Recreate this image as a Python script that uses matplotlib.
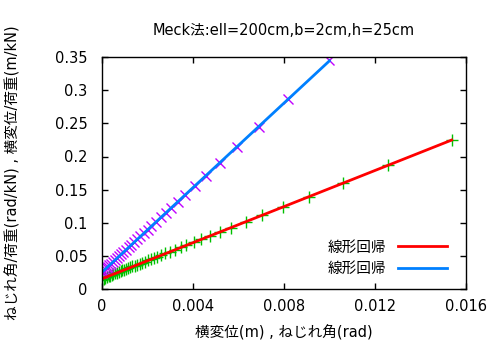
import numpy as np
import matplotlib
matplotlib.use("Agg")
import matplotlib.pyplot as plt

plt.rcParams['font.family'] = ['DejaVu Sans', 'Noto Sans CJK JP']

title = "Meck法:ell=200cm,b=2cm,h=25cm"
xlabel = "横変位(m) , ねじれ角(rad)"
ylabel = "ねじれ角/荷重(rad/kN) , 横変位/荷重(m/kN)"
fit_label = "線形回帰"

# lateral displacement (m) vs displacement/load (m/kN)
disp_x = [0.01537, 0.01259, 0.01061, 0.00911, 0.00797, 0.00706, 0.00636, 0.00570,
          0.00522, 0.00475, 0.00438, 0.00404, 0.00372, 0.00347, 0.00322, 0.00300,
          0.00280, 0.00262, 0.00245, 0.00230, 0.00216, 0.00203, 0.00190, 0.00178,
          0.00167, 0.00156, 0.00146, 0.00136, 0.00127, 0.00118, 0.00109, 0.00100,
          0.00092, 0.00084, 0.00076, 0.00068, 0.00060, 0.00052, 0.00045, 0.00038,
          0.00031, 0.00024, 0.00017, 0.00010, 0.00004]
disp_y = [0.2248, 0.1866, 0.1595, 0.1393, 0.1242, 0.1116, 0.1018, 0.0925,
          0.0862, 0.0799, 0.0750, 0.0704, 0.0661, 0.0629, 0.0594, 0.0563,
          0.0537, 0.0511, 0.0489, 0.0469, 0.0450, 0.0432, 0.0414, 0.0398,
          0.0383, 0.0368, 0.0355, 0.0341, 0.0329, 0.0316, 0.0304, 0.0292,
          0.0281, 0.0270, 0.0258, 0.0247, 0.0236, 0.0225, 0.0214, 0.0203,
          0.0192, 0.0178, 0.0165, 0.0152, 0.0140]

# twist angle (rad) vs angle/load (rad/kN)
twist_x = [0.01000, 0.00820, 0.00693, 0.00596, 0.00520, 0.00460, 0.00409, 0.00367,
           0.00334, 0.00306, 0.00282, 0.00259, 0.00238, 0.00219, 0.00202, 0.00186,
           0.00171, 0.00157, 0.00144, 0.00131, 0.00119, 0.00107, 0.00096, 0.00086,
           0.00076, 0.00067, 0.00058, 0.00050, 0.00042, 0.00035, 0.00028, 0.00022,
           0.00016, 0.00010, 0.00005, 0.00002]
twist_y = [0.3455, 0.2870, 0.2445, 0.2145, 0.1900, 0.1710, 0.1550, 0.1420,
           0.1310, 0.1228, 0.1151, 0.1080, 0.1012, 0.0951, 0.0897, 0.0846,
           0.0798, 0.0753, 0.0711, 0.0670, 0.0631, 0.0593, 0.0558, 0.0525,
           0.0493, 0.0464, 0.0435, 0.0409, 0.0383, 0.0360, 0.0337, 0.0316,
           0.0296, 0.0276, 0.0259, 0.0248]

xticks = [0, 0.004, 0.008, 0.012, 0.016]
xticklabels = ["0", "0.004", "0.008", "0.012", "0.016"]
yticks = [0, 0.05, 0.1, 0.15, 0.2, 0.25, 0.3, 0.35]
yticklabels = ["0", "0.05", "0.1", "0.15", "0.2", "0.25", "0.3", "0.35"]

fig = plt.figure(figsize=(5, 3.5), dpi=100)
ax = fig.add_axes([0.203, 0.174, 0.729, 0.663])

# measured points
ax.plot(disp_x, disp_y, linestyle="none", marker="+", color="#00c000",
        markersize=8, markeredgewidth=1)
ax.plot(twist_x, twist_y, linestyle="none", marker="x", color="#c000ff",
        markersize=7, markeredgewidth=1)

# linear regression lines
b1, a1 = np.polyfit(disp_x, disp_y, 1)
xs1 = np.array([0, max(disp_x)])
ax.plot(xs1, a1 + b1 * xs1, color="#ff0000", linewidth=2, label=fit_label)
b2, a2 = np.polyfit(twist_x, twist_y, 1)
xs2 = np.array([0, max(twist_x)])
ax.plot(xs2, a2 + b2 * xs2, color="#0080ff", linewidth=2, label=fit_label)

ax.set_xlim(0, 0.016)
ax.set_ylim(0, 0.35)
ax.set_xticks(xticks)
ax.set_xticklabels(xticklabels)
ax.set_yticks(yticks)
ax.set_yticklabels(yticklabels)
ax.tick_params(direction="in", length=4, width=1, top=True, right=True,
               labelsize=10.5, colors="black")
ax.tick_params(axis="x", pad=7)
ax.tick_params(axis="y", pad=10)
for s in ax.spines.values():
    s.set_linewidth(1)

ax.set_title(title, fontsize=10.5, pad=16)
ax.set_xlabel(xlabel, fontsize=10.5, labelpad=8)
ax.set_ylabel(ylabel, fontsize=10.5)
ax.yaxis.set_label_coords(-0.222, 0.5)

ax.legend(loc="lower right", markerfirst=False, frameon=False, fontsize=10.5,
          handlelength=3.4, labelspacing=0.45, borderaxespad=0.5,
          bbox_to_anchor=(0.985, 0.0))

fig.savefig("out.png", dpi=100)
